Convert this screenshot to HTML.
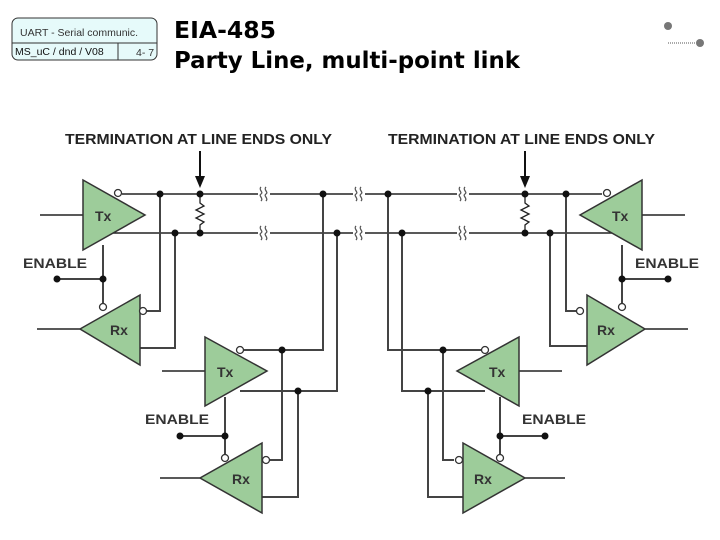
<!DOCTYPE html>
<html><head><meta charset="utf-8"><style>
html,body{margin:0;padding:0;background:#fff;}
svg{display:block;}
</style></head><body>
<svg width="720" height="540" viewBox="0 0 720 540" xmlns="http://www.w3.org/2000/svg" font-family="Liberation Sans, sans-serif">
<defs>
<g id="brk" fill="none" stroke="#555" stroke-width="1.3">
<path d="M-2,-7 C-5,-4 1,-2 -2,0 C-5,2 1,4 -2,7"/>
<path d="M3,-7 C0,-4 6,-2 3,0 C0,2 6,4 3,7"/>
</g>
</defs>
<!-- header box -->
<rect x="12" y="18" width="145" height="42" rx="6" fill="#e6fafa" stroke="#333" stroke-width="1"/>
<line x1="12" y1="43" x2="157" y2="43" stroke="#333"/>
<line x1="118" y1="43" x2="118" y2="60" stroke="#333"/>
<text x="20" y="36" font-size="10.5" fill="#333">UART - Serial communic.</text>
<text x="15" y="55" font-size="10.5" fill="#111">MS_uC / dnd / V08</text>
<text x="136" y="56" font-size="10.5" fill="#333">4- 7</text>
<text x="174" y="38" font-size="23" font-weight="bold" font-family="DejaVu Sans, sans-serif" textLength="102" lengthAdjust="spacingAndGlyphs">EIA-485</text>
<text x="174" y="68" font-size="23" font-weight="bold" font-family="DejaVu Sans, sans-serif" textLength="346" lengthAdjust="spacingAndGlyphs">Party Line, multi-point link</text>
<circle cx="668" cy="26" r="4" fill="#777"/>
<circle cx="700" cy="43" r="4" fill="#777"/>
<line x1="668" y1="43" x2="695" y2="43" stroke="#555" stroke-dasharray="1,1"/>

<!-- termination labels -->
<text x="65" y="144" font-size="15" font-weight="bold" fill="#222" textLength="267" lengthAdjust="spacingAndGlyphs">TERMINATION AT LINE ENDS ONLY</text>
<text x="388" y="144" font-size="15" font-weight="bold" fill="#222" textLength="267" lengthAdjust="spacingAndGlyphs">TERMINATION AT LINE ENDS ONLY</text>
<g stroke="#111" stroke-width="2">
<line x1="200" y1="151" x2="200" y2="178"/><line x1="525" y1="151" x2="525" y2="178"/>
</g>
<polygon points="195,176 205,176 200,188" fill="#111"/>
<polygon points="520,176 530,176 525,188" fill="#111"/>

<!-- bus lines -->
<g stroke="#222" stroke-width="1.5" fill="none">
<line x1="122" y1="194" x2="602" y2="194"/>
<line x1="112" y1="233" x2="612" y2="233"/>
<line x1="40" y1="215" x2="83" y2="215"/>
<line x1="37" y1="329" x2="80" y2="329"/>
<line x1="642" y1="215" x2="685" y2="215"/>
<line x1="645" y1="329" x2="688" y2="329"/>
<line x1="162" y1="371" x2="205" y2="371"/>
<line x1="160" y1="478" x2="200" y2="478"/>
<line x1="519" y1="371" x2="562" y2="371"/>
<line x1="525" y1="478" x2="565" y2="478"/>
</g>
<!-- breaks -->
<g fill="#fff" stroke="none">
<rect x="258" y="188" width="12" height="12"/><rect x="258" y="227" width="12" height="12"/>
<rect x="353" y="188" width="12" height="12"/><rect x="353" y="227" width="12" height="12"/>
<rect x="457" y="188" width="12" height="12"/><rect x="457" y="227" width="12" height="12"/>
</g>
<use href="#brk" x="263" y="194"/><use href="#brk" x="263" y="233"/>
<use href="#brk" x="358" y="194"/><use href="#brk" x="358" y="233"/>
<use href="#brk" x="462" y="194"/><use href="#brk" x="462" y="233"/>
<!-- resistors -->
<g stroke="#222" stroke-width="1.3" fill="none">
<polyline points="200,194 200,203 204,206 196,210 204,214 196,218 204,222 200,225 200,233"/>
<polyline points="525,194 525,203 529,206 521,210 529,214 521,218 529,222 525,225 525,233"/>
</g>

<!-- vertical connecting wires -->
<g stroke="#444" stroke-width="2" fill="none">
<polyline points="160,194 160,311 147,311"/>
<polyline points="175,233 175,348 140,348"/>
<polyline points="103,245 103,303"/>
<line x1="57" y1="279" x2="103" y2="279"/>
<polyline points="566,194 566,311 584,311"/>
<polyline points="550,233 550,346 587,346"/>
<polyline points="622,245 622,303"/>
<line x1="622" y1="279" x2="668" y2="279"/>
<polyline points="244,350 323,350 323,194"/>
<polyline points="240,391 337,391 337,233"/>
<polyline points="282,350 282,460 270,460"/>
<polyline points="298,391 298,497 262,497"/>
<polyline points="225,397 225,454"/>
<line x1="180" y1="436" x2="225" y2="436"/>
<polyline points="481,350 388,350 388,194"/>
<polyline points="485,391 402,391 402,233"/>
<polyline points="443,350 443,460 454,460"/>
<polyline points="428,391 428,497 463,497"/>
<polyline points="500,397 500,454"/>
<line x1="500" y1="436" x2="545" y2="436"/>
</g>

<!-- triangles -->
<g fill="#9dcc9a" stroke="#333" stroke-width="1.5">
<polygon points="83,180 83,250 145,215"/>
<polygon points="140,295 140,365 80,329"/>
<polygon points="642,180 642,250 580,215"/>
<polygon points="587,295 587,365 645,329"/>
<polygon points="205,337 205,406 267,371"/>
<polygon points="262,443 262,513 200,478"/>
<polygon points="519,337 519,406 457,371"/>
<polygon points="463,443 463,513 525,478"/>
</g>
<g font-size="14" font-weight="bold" fill="#333">
<text x="95" y="221">Tx</text><text x="110" y="335">Rx</text>
<text x="612" y="221">Tx</text><text x="597" y="335">Rx</text>
<text x="217" y="377">Tx</text><text x="232" y="484">Rx</text>
<text x="489" y="377">Tx</text><text x="474" y="484">Rx</text>
</g>
<!-- bubbles -->
<g fill="#fff" stroke="#333" stroke-width="1.3">
<circle cx="118" cy="193" r="3.5"/><circle cx="103" cy="307" r="3.5"/><circle cx="143" cy="311" r="3.5"/>
<circle cx="607" cy="193" r="3.5"/><circle cx="622" cy="307" r="3.5"/><circle cx="580" cy="311" r="3.5"/>
<circle cx="240" cy="350" r="3.5"/><circle cx="225" cy="458" r="3.5"/><circle cx="266" cy="460" r="3.5"/>
<circle cx="485" cy="350" r="3.5"/><circle cx="500" cy="458" r="3.5"/><circle cx="459" cy="460" r="3.5"/>
</g>
<!-- dots -->
<g fill="#111">
<circle cx="160" cy="194" r="3.5"/><circle cx="200" cy="194" r="3.5"/><circle cx="175" cy="233" r="3.5"/><circle cx="200" cy="233" r="3.5"/>
<circle cx="323" cy="194" r="3.5"/><circle cx="337" cy="233" r="3.5"/><circle cx="388" cy="194" r="3.5"/><circle cx="402" cy="233" r="3.5"/>
<circle cx="525" cy="194" r="3.5"/><circle cx="566" cy="194" r="3.5"/><circle cx="525" cy="233" r="3.5"/><circle cx="550" cy="233" r="3.5"/>
<circle cx="57" cy="279" r="3.5"/><circle cx="103" cy="279" r="3.5"/><circle cx="622" cy="279" r="3.5"/><circle cx="668" cy="279" r="3.5"/>
<circle cx="282" cy="350" r="3.5"/><circle cx="298" cy="391" r="3.5"/><circle cx="180" cy="436" r="3.5"/><circle cx="225" cy="436" r="3.5"/>
<circle cx="443" cy="350" r="3.5"/><circle cx="428" cy="391" r="3.5"/><circle cx="500" cy="436" r="3.5"/><circle cx="545" cy="436" r="3.5"/>
</g>
<g font-size="14" font-weight="bold" fill="#333">
<text x="23" y="268" textLength="64" lengthAdjust="spacingAndGlyphs">ENABLE</text>
<text x="635" y="268" textLength="64" lengthAdjust="spacingAndGlyphs">ENABLE</text>
<text x="145" y="424" textLength="64" lengthAdjust="spacingAndGlyphs">ENABLE</text>
<text x="522" y="424" textLength="64" lengthAdjust="spacingAndGlyphs">ENABLE</text>
</g>
</svg>
</body></html>
